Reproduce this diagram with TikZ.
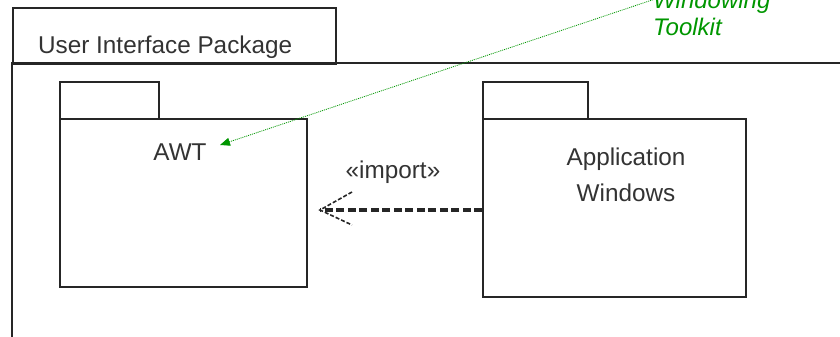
\documentclass[tikz,border=0pt]{standalone}
\usepackage{fontspec}
\setmainfont{Liberation Sans}
\usetikzlibrary{arrows.meta}
\definecolor{notegreen}{RGB}{0,150,0}
\tikzset{
  x=1pt, y=-1pt,
  pkgline/.style={draw=black!85, line width=2.2pt},
  box/.style={pkgline, anchor=north west, inner sep=0pt, fill=white},
  lbl/.style={font=\fontsize{24.3}{29}\selectfont, text=black!80, inner sep=0pt, anchor=base},
  note/.style={font=\fontsize{24}{27}\selectfont\itshape, text=notegreen, inner sep=0pt, anchor=base west},
}
\begin{document}
\begin{tikzpicture}
  \useasboundingbox (0,0) rectangle (840,337);
  \clip (0,0) rectangle (840,337);

  % enclosing package: tab and body (body runs past the right and bottom edges)
  \node[box, minimum width=323pt, minimum height=56pt] (uitab) at (12,7) {};
  \draw[pkgline] (12,345) -- (12,63) -- (850,63);
  \node[lbl, anchor=base west] (uiname) at (38,53) {User Interface Package};

  % AWT package
  \node[box, minimum width=99pt, minimum height=37pt] (awttab) at (59,81) {};
  \node[box, minimum width=247pt, minimum height=168pt] (awt) at (59,118) {};
  \node[lbl] (awtname) at (180,160) {AWT};

  % Application Windows package
  \node[box, minimum width=105pt, minimum height=37pt] (apptab) at (482,81) {};
  \node[box, minimum width=263pt, minimum height=178pt] (app) at (482,118) {};
  \node[lbl] (appname1) at (626,165) {Application};
  \node[lbl] (appname2) at (626,201) {Windows};

  % import dependency
  \coordinate (tip) at (320,210);
  \coordinate (dep) at (app.west |- tip);
  \draw[black!85, line width=3.2pt, dash pattern=on 8pt off 3.5pt] (dep) -- (tip);
  \coordinate (armA) at (352,192);
  \coordinate (armB) at (352,225);
  \draw[black!85, line width=1.6pt, dash pattern=on 4pt off 2pt] (armA) -- (tip) -- (armB);
  \node[lbl] (imp) at (393,178) {«import»};

  % note label with dotted pointer
  \node[note] (w1) at (653,9) {Windowing};
  \node[note] (w2) at (653,36) {Toolkit};
  \coordinate (noteend) at (670,-6);
  \coordinate (awtpt) at (220,145);
  \draw[notegreen, line width=0.8pt, dash pattern=on 1pt off 1pt,
        -{Triangle[length=10pt,width=8pt]}] (noteend) -- (awtpt);
\end{tikzpicture}
\end{document}
